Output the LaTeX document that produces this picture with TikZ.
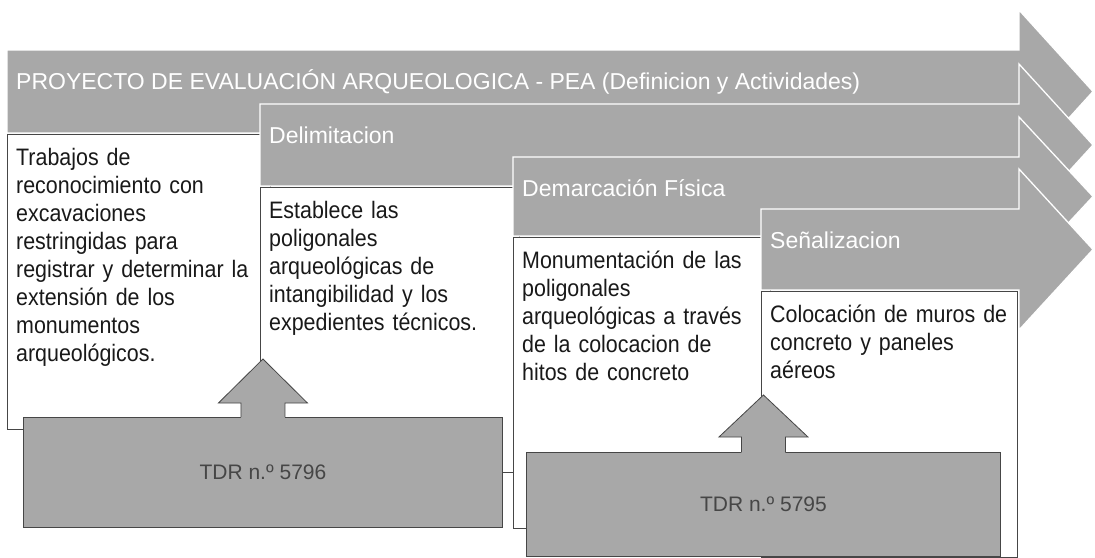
\documentclass[tikz,border=0pt]{standalone}
\usepackage{fontspec}
\setmainfont{Liberation Sans}
\newfontfamily\notefont{Liberation Sans}[FakeStretch=0.9]
\definecolor{halftone}{RGB}{168,168,168}
\definecolor{rim}{RGB}{70,70,70}
\definecolor{ink}{RGB}{25,25,25}
\definecolor{tdrink}{RGB}{70,70,70}

\begin{document}
\begin{tikzpicture}[x=1pt,y=-1pt,
  bar/.style={fill=halftone,draw=white,line width=1.3pt},
  bartitle/.style={text=white,inner sep=0pt,font=\fontsize{23}{27}\selectfont},
  note/.style={fill=white,draw=rim,line width=0.8pt,inner sep=0pt},
  notetext/.style={text=ink,inner sep=0pt,text width=300pt,align=left,
    font=\notefont\fontsize{23.8}{28}\selectfont},
  tdr/.style={fill=halftone,draw=rim,line width=0.9pt,text=tdrink,
    font=\fontsize{21}{25}\selectfont},
  upblock/.style={draw=rim,line width=0.8pt},
]
\fill[white] (0,0) rectangle (1095,557);
\useasboundingbox (0,0) rectangle (1095,557);

% chevron bars with their text boxes
\foreach \lx/\ty/\th/\bw/\bh/\ttl/\txt [count=\i] in {
  7/50/83/263/295/{PROYECTO DE EVALUACIÓN ARQUEOLOGICA - PEA (Definicion y Actividades)}/{Trabajos de\\reconocimiento con\\excavaciones\\restringidas para\\registrar y determinar la\\extensión de los\\monumentos\\arqueológicos.},
  260/104/82/259/285/{Delimitacion}/{Establece las\\poligonales\\arqueológicas de\\intangibilidad y los\\expedientes técnicos.},
  513/157/79/257/291/{Demarcación Física}/{Monumentación de las\\poligonales\\arqueológicas a través\\de la colocacion de\\hitos de concreto},
  761/209/81/256/266/{Señalizacion}/{Colocación de muros de\\concreto y paneles\\aéreos}} {
  \draw[bar] (\lx,\ty) -- (1019,\ty) -- (1019,\ty-40) -- (1093,\ty+\th/2)
    -- (1019,\ty+\th+40) -- (1019,\ty+\th) -- (\lx,\ty+\th) -- cycle;
  \node[bartitle,anchor=base west] (ttl\i) at (\lx+9,\ty+39) {\ttl};
  \node[note,anchor=north west,minimum width=\bw,minimum height=\bh] (box\i) at (\lx,\ty+\th+1) {};
  \node[notetext,anchor=base west] (txt\i) at (\lx+9,\ty+\th+32) {\txt};
}

% terms of reference
\node[tdr,anchor=north west,minimum width=479,minimum height=110] (tdr1) at (23,417) {TDR n.º 5796};
\node[tdr,anchor=north west,minimum width=474,minimum height=104] (tdr2) at (526,452) {TDR n.º 5795};

\fill[halftone] ([xshift=-22pt,yshift=-1pt]tdr1.north) -- ++(0,-15) -- ++(-22.5,0) -- ++(44.5,-44)
  -- ++(44.5,44) -- ++(-22.5,0) -- ++(0,15) -- cycle;
\draw[upblock] ([xshift=-22pt]tdr1.north) -- ++(0,-14) -- ++(-22.5,0) -- ++(44.5,-44)
  -- ++(44.5,44) -- ++(-22.5,0) -- ++(0,14);
\fill[halftone] ([xshift=-22pt,yshift=-1pt]tdr2.north) -- ++(0,-16) -- ++(-22.5,0) -- ++(44.5,-42)
  -- ++(44.5,42) -- ++(-22.5,0) -- ++(0,16) -- cycle;
\draw[upblock] ([xshift=-22pt]tdr2.north) -- ++(0,-15) -- ++(-22.5,0) -- ++(44.5,-42)
  -- ++(44.5,42) -- ++(-22.5,0) -- ++(0,15);
\end{tikzpicture}
\end{document}
